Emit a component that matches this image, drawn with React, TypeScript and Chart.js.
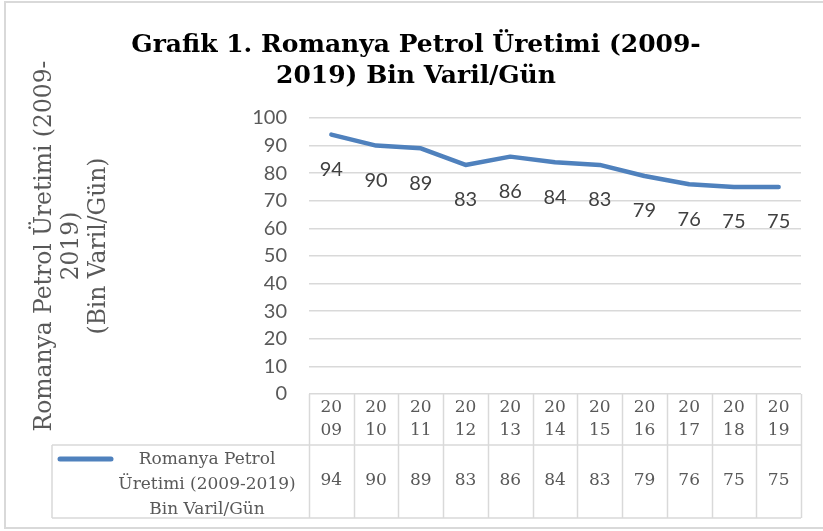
import React, { useEffect, useRef } from 'react';
import { Chart, registerables } from 'chart.js';

Chart.register(...registerables);

const categories = ['2009', '2010', '2011', '2012', '2013', '2014', '2015', '2016', '2017', '2018', '2019'];
const production = [94, 90, 89, 83, 86, 84, 83, 79, 76, 75, 75];
const yMin = 0;
const yMax = 100;
const yStep = 10;
const titleLines = ['Grafik 1. Romanya Petrol Üretimi (2009-', '2019) Bin Varil/Gün'];
const yTitleLines = ['Romanya Petrol Üretimi (2009-', '2019)', '(Bin Varil/Gün)'];
const legendLines = ['Romanya Petrol', 'Üretimi (2009-2019)', 'Bin Varil/Gün'];

const LINE_COLOR = '#4f81bd';
const GRID_COLOR = '#d9d9d9';
const TEXT_GRAY = '#595959';
const SERIF = '"DejaVu Serif", serif';
const SANS = 'Lato, "Open Sans", sans-serif';

export default function App() {
  const ref = useRef<HTMLCanvasElement>(null);

  useEffect(() => {
    const canvas = ref.current;
    if (!canvas) return;

    const decor = {
      id: 'excelDecor',
      beforeDraw(chart: any) {
        const ctx = chart.ctx;
        ctx.save();
        ctx.fillStyle = '#ffffff';
        ctx.fillRect(0, 0, chart.width, chart.height);
        ctx.strokeStyle = GRID_COLOR;
        ctx.lineWidth = 2;
        ctx.strokeRect(5, 2, 840, 526);
        ctx.restore();
      },
      afterDatasetsDraw(chart: any) {
        const ctx = chart.ctx;
        const meta = chart.getDatasetMeta(0);
        ctx.save();
        ctx.font = `20px ${SANS}`;
        ctx.fillStyle = '#404040';
        ctx.textAlign = 'center';
        ctx.textBaseline = 'middle';
        meta.data.forEach((pt: any, i: number) => {
          ctx.fillText(String(production[i]), pt.x, pt.y + 35);
        });
        ctx.restore();
      },
      afterDraw(chart: any) {
        const ctx = chart.ctx;
        const area = chart.chartArea;
        const xs = chart.scales.x;
        const n = categories.length;
        const colW = (area.right - area.left) / n;
        const top = area.bottom;
        const mid = top + 51;
        const bot = top + 124;
        const legendLeft = 52;

        ctx.save();
        // Title
        ctx.fillStyle = '#000000';
        ctx.font = `bold 25px ${SERIF}`;
        ctx.textAlign = 'center';
        ctx.textBaseline = 'middle';
        ctx.fillText(titleLines[0], 416, 45);
        ctx.fillText(titleLines[1], 416, 76);

        // Y axis title (rotated)
        ctx.save();
        ctx.translate(0, 246);
        ctx.rotate(-Math.PI / 2);
        ctx.font = `23.4px ${SERIF}`;
        ctx.fillStyle = TEXT_GRAY;
        const yTitleX = [45, 72, 99];
        yTitleLines.forEach((line, i) => {
          ctx.save();
          ctx.translate(0, yTitleX[i]);
          ctx.fillText(line, 0, 0);
          ctx.restore();
        });
        ctx.restore();

        // Table grid
        ctx.strokeStyle = GRID_COLOR;
        ctx.lineWidth = 1.5;
        ctx.beginPath();
        for (let i = 0; i <= n; i++) {
          const x = Math.round(area.left + i * colW) + 0.5;
          ctx.moveTo(x, top);
          ctx.lineTo(x, bot);
        }
        ctx.moveTo(legendLeft, mid);
        ctx.lineTo(area.right, mid);
        ctx.moveTo(legendLeft, bot);
        ctx.lineTo(area.right, bot);
        ctx.moveTo(legendLeft, mid);
        ctx.lineTo(legendLeft, bot);
        ctx.stroke();

        // Header labels and values
        ctx.font = `17px ${SERIF}`;
        ctx.fillStyle = TEXT_GRAY;
        categories.forEach((c, i) => {
          const cx = xs.getPixelForValue(i);
          ctx.fillText(c.slice(0, 2), cx, top + 14);
          ctx.fillText(c.slice(2), cx, top + 37);
          ctx.fillText(String(production[i]), cx, top + 87);
        });

        // Legend
        ctx.strokeStyle = LINE_COLOR;
        ctx.lineWidth = 5;
        ctx.lineCap = 'round';
        ctx.beginPath();
        ctx.moveTo(60, top + 65);
        ctx.lineTo(111, top + 65);
        ctx.stroke();
        ctx.fillStyle = TEXT_GRAY;
        legendLines.forEach((line, i) => {
          ctx.fillText(line, 207, top + 66 + i * 25);
        });
        ctx.restore();
      },
    };

    const chart = new Chart(canvas, {
      type: 'line',
      data: {
        labels: categories,
        datasets: [
          {
            label: legendLines.join(' '),
            data: production,
            borderColor: LINE_COLOR,
            borderWidth: 4.5,
            pointRadius: 0,
            tension: 0,
            fill: false,
            borderCapStyle: 'round',
            borderJoinStyle: 'round',
          },
        ],
      },
      options: {
        responsive: false,
        animation: false,
        devicePixelRatio: 1,
        layout: { padding: { top: 118, right: 22, bottom: 137, left: 0 } },
        plugins: {
          legend: { display: false },
          title: { display: false },
          tooltip: { enabled: false },
        },
        scales: {
          x: {
            type: 'category',
            display: false,
            offset: true,
          },
          y: {
            min: yMin,
            max: yMax,
            ticks: {
              stepSize: yStep,
              padding: 22,
              color: TEXT_GRAY,
              font: { family: SANS, size: 20 },
            },
            grid: { color: GRID_COLOR, lineWidth: 1.5, drawTicks: false },
            border: { display: false },
            afterFit(scale: any) {
              scale.width = 309;
            },
          },
        },
      },
      plugins: [decor],
    });

    return () => chart.destroy();
  }, []);

  return (
    <div style={{ position: 'fixed', left: 0, top: 0, width: 823, height: 531, background: '#fff' }}>
      <canvas ref={ref} width={823} height={531} style={{ width: 823, height: 531, display: 'block' }} />
    </div>
  );
}
